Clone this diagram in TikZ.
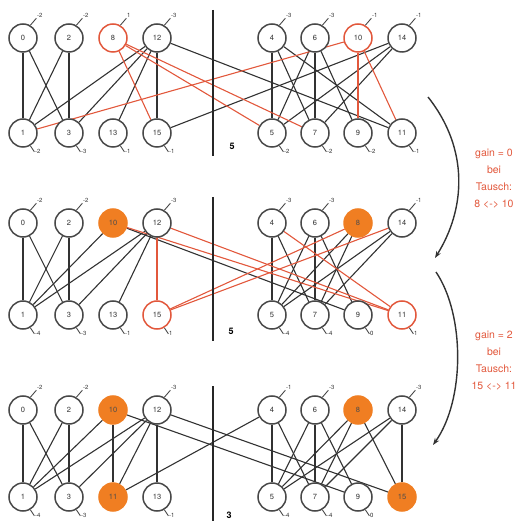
\documentclass[tikz,border=0pt]{standalone}
\usepackage{fontspec}
\setmainfont{TeX Gyre Heros}
\usetikzlibrary{backgrounds,arrows.meta}

\definecolor{klred}{RGB}{226,88,60}
\definecolor{klorange}{RGB}{240,126,34}
\definecolor{klink}{RGB}{50,50,50}
\definecolor{klrim}{RGB}{72,72,72}

\def\klnone{x}
\def\klxpos{{23,69,113,157,272,315,358,402}}

\tikzset{
  vtx/.style={circle, draw=klrim, line width=1.5pt, fill=white, minimum size=28pt,
    inner sep=0pt, text=klink, font=\fontsize{7.5}{8}\selectfont},
  vtxcand/.style={vtx, draw=klred},
  vtxdone/.style={vtx, draw=klorange, fill=klorange, text=black!70},
  kledge/.style={draw=klink, line width=1.1pt},
  kledgehl/.style={draw=klred, line width=1.1pt},
  klpin/.style={draw=klrim, line width=0.9pt},
  klgain/.style={inner sep=0.6pt, text=klink, font=\fontsize{6}{6}\selectfont},
  klsep/.style={draw=black!85, line width=1.6pt},
  klcut/.style={inner sep=0pt, font=\bfseries\fontsize{9}{10}\selectfont},
  klnote/.style={align=center, text=klred, font=\fontsize{10.5}{17}\selectfont, inner sep=0pt},
  klarrow/.style={draw=klink, line width=1.4pt, -{Stealth[length=7pt,width=5pt]}},
}

% One bipartition: #1 name prefix, #2 y of the upper row, #3 y of the lower row,
% #4 upper row as id/style/D-value, #5 lower row (D-value x = locked, no label)
\newcommand\klrows[5]{%
  \foreach \id/\st/\g [count=\i] in {#4}{%
    \pgfmathsetmacro\xx{\klxpos[\i-1]}%
    \node[\st] (#1\id) at (\xx,#2) {\id};
    \edef\kltmp{\g}%
    \ifx\kltmp\klnone\else
      \path (#1\id.60) ++(6pt,7pt) node[klgain, anchor=south west] (#1\id g) {\g};
      \draw[klpin] (#1\id.60) -- (#1\id g.south west);
    \fi
  }%
  \foreach \id/\st/\g [count=\i] in {#5}{%
    \pgfmathsetmacro\xx{\klxpos[\i-1]}%
    \node[\st] (#1\id) at (\xx,#3) {\id};
    \edef\kltmp{\g}%
    \ifx\kltmp\klnone\else
      \path (#1\id.-60) ++(4pt,-6pt) node[klgain, anchor=west] (#1\id g) {\g};
      \draw[klpin] (#1\id.-60) -- (#1\id g.west);
    \fi
  }%
}

% Edges of one bipartition: #1 prefix, #2 plain edges, #3 highlighted edges
\newcommand\kledges[3]{%
  \begin{scope}[on background layer]
    \foreach \u/\v in {#2} \draw[kledge] (#1\u) -- (#1\v);
    \foreach \u/\v in {#3} \draw[kledgehl] (#1\u) -- (#1\v);
  \end{scope}
}

\begin{document}
\begin{tikzpicture}[x=1pt,y=1pt]
\useasboundingbox (0,-521) rectangle (522,0);

% ---- initial partition, cut 5
\klrows{a}{-38}{-133}
  {0/vtx/-2, 2/vtx/-2, 8/vtxcand/1, 12/vtx/-3, 4/vtx/-3, 6/vtx/-3, 10/vtxcand/-1, 14/vtx/-1}
  {1/vtx/-2, 3/vtx/-3, 13/vtx/-1, 15/vtx/-1, 5/vtx/-2, 7/vtx/-2, 9/vtx/-2, 11/vtx/-1}
\kledges{a}
  {0/1, 0/3, 2/1, 2/3, 12/1, 12/3, 12/13, 12/15, 4/5, 4/7, 6/5, 6/7, 6/9, 14/5, 14/7, 4/11, 12/11, 15/14}
  {8/15, 8/5, 8/7, 10/1, 10/9, 10/11}
\draw[klsep] (213,-10) -- (213,-156);
\node[klcut] (cuta) at (232,-146) {5};

% ---- after swapping 8 and 10, cut 5
\klrows{b}{-223}{-315}
  {0/vtx/-2, 2/vtx/-2, 10/vtxdone/x, 12/vtx/-3, 4/vtx/-3, 6/vtx/-3, 8/vtxdone/x, 14/vtx/-1}
  {1/vtx/-4, 3/vtx/-3, 13/vtx/-1, 15/vtxcand/1, 5/vtx/-4, 7/vtx/-4, 9/vtx/0, 11/vtxcand/1}
\kledges{b}
  {0/1, 0/3, 2/1, 2/3, 12/1, 12/3, 12/13, 4/5, 4/7, 6/5, 6/7, 6/9, 14/5, 14/7, 8/5, 8/7, 10/1, 10/9}
  {12/15, 8/15, 15/14, 12/11, 10/11, 4/11}
\draw[klsep] (213,-197) -- (213,-341);
\node[klcut] (cutb) at (231,-331) {5};

% ---- after swapping 15 and 11, cut 3
\klrows{c}{-410}{-497}
  {0/vtx/-2, 2/vtx/-2, 10/vtxdone/x, 12/vtx/-3, 4/vtx/-1, 6/vtx/-3, 8/vtxdone/x, 14/vtx/-3}
  {1/vtx/-4, 3/vtx/-3, 11/vtxdone/x, 13/vtx/-1, 5/vtx/-4, 7/vtx/-4, 9/vtx/0, 15/vtxdone/x}
\kledges{c}
  {0/1, 0/3, 2/1, 2/3, 12/1, 12/3, 12/13, 12/15, 4/5, 4/7, 6/5, 6/7, 6/9, 14/5, 14/7, 4/11,
   12/11, 15/14, 8/15, 8/5, 8/7, 10/1, 10/9, 10/11}
  {}
\draw[klsep] (213,-386) -- (213,-521);
\node[klcut] (cutc) at (229,-515) {3};

% ---- step arrows with notes
\coordinate (stepAfrom) at (428,-97);
\coordinate (stepAto) at (435,-258);
\draw[klarrow] (stepAfrom) .. controls (470,-150) and (465,-210) .. (stepAto);
\node[klnote] (noteA) at (494,-179) {gain = 0\\bei\\Tausch:\\8 <-> 10};

\coordinate (stepBfrom) at (436,-272);
\coordinate (stepBto) at (433,-445);
\draw[klarrow] (stepBfrom) .. controls (465,-315) and (465,-400) .. (stepBto);
\node[klnote] (noteB) at (494,-361) {gain = 2\\bei\\Tausch:\\15 <-> 11};
\end{tikzpicture}
\end{document}
